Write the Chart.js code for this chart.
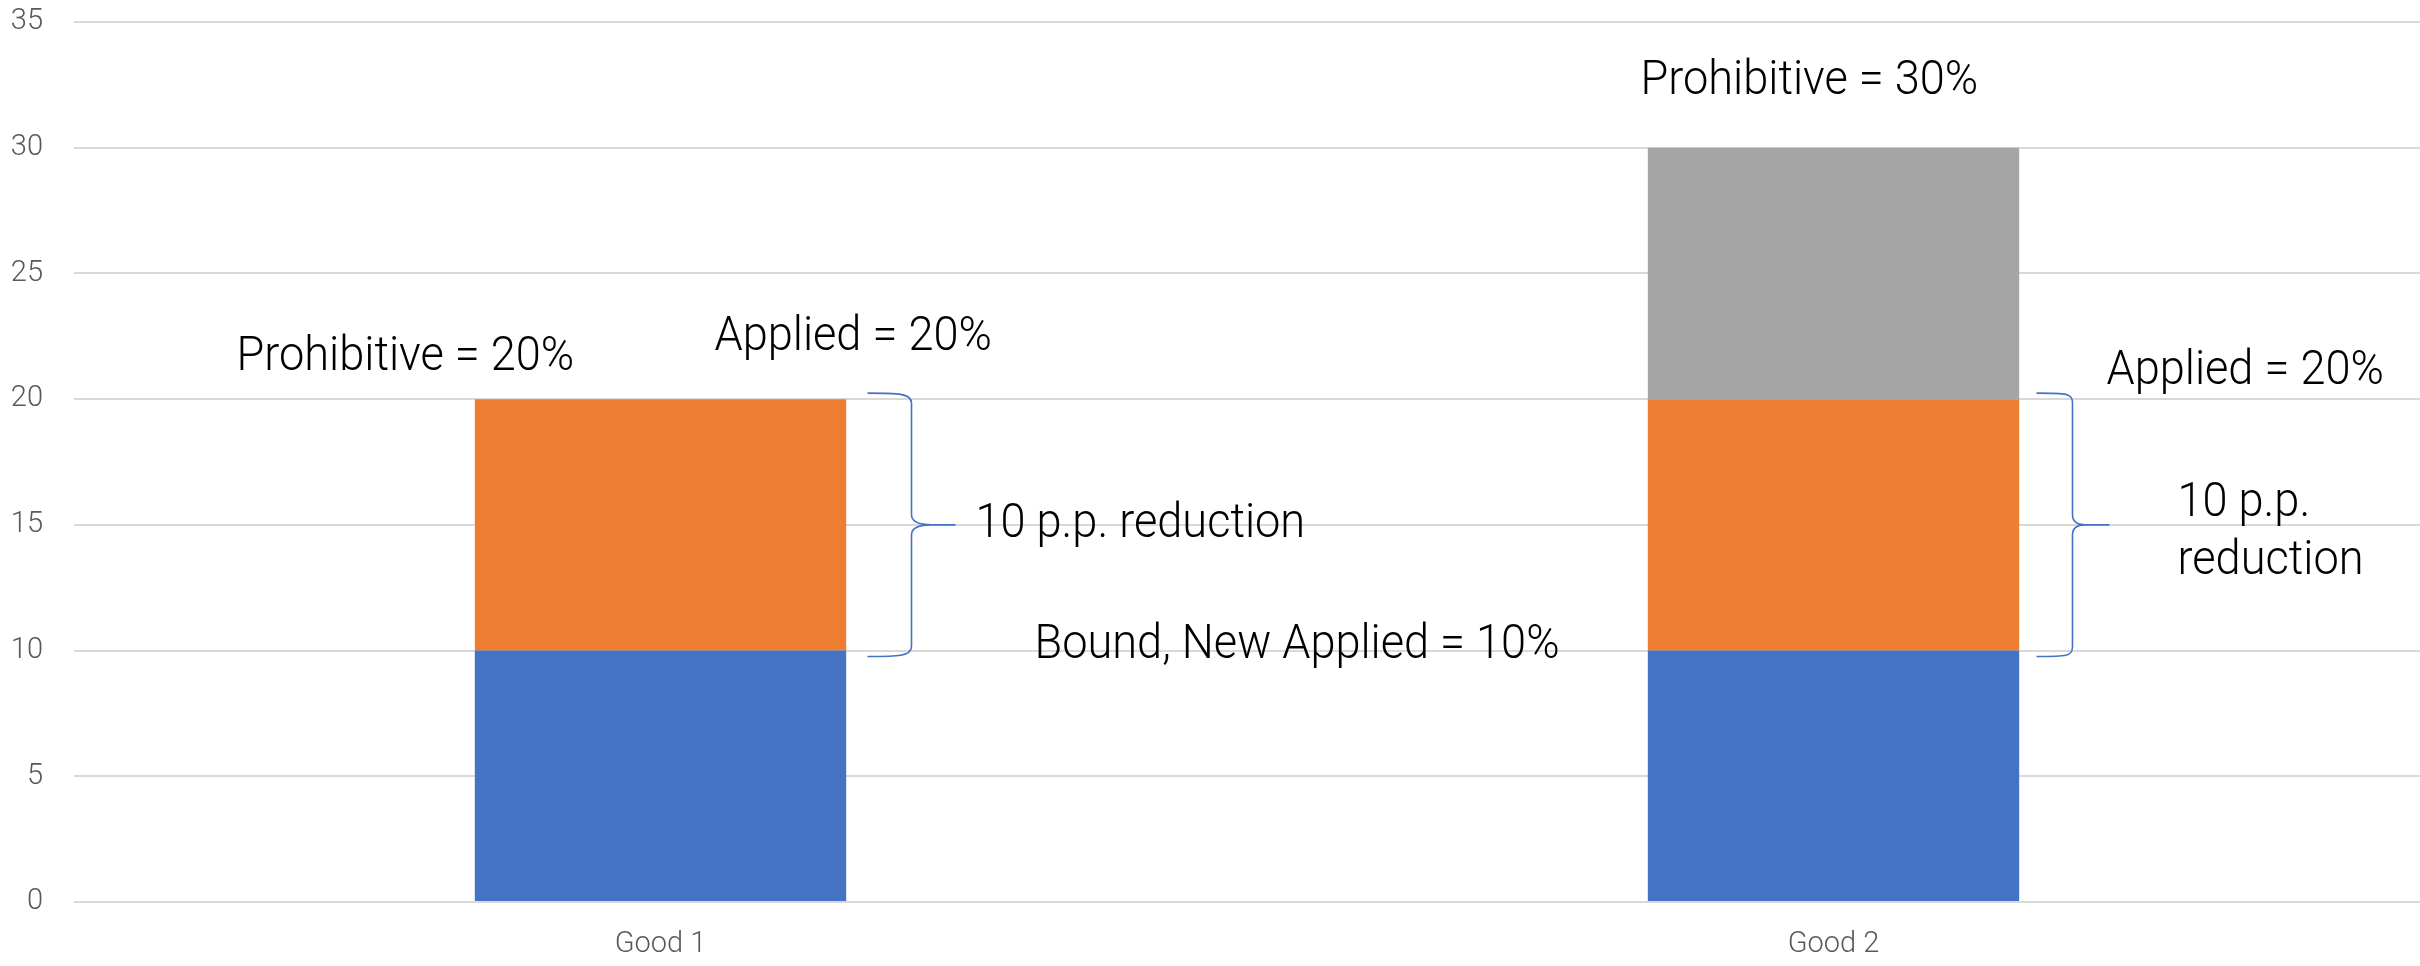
<!DOCTYPE html>
<html>
<head>
<meta charset="utf-8">
<script src="https://cdn.jsdelivr.net/npm/chart.js@4.4.1/dist/chart.umd.min.js"></script>
<style>
  html, body { margin: 0; padding: 0; background: #ffffff; }
  canvas { display: block; }
</style>
</head>
<body>
<canvas id="tariffChart" width="2420" height="966"></canvas>
<script>
// chart data
var goods = ['Good 1', 'Good 2'];
var boundPart = [10, 10];        // blue: bound / new applied rate
var reductionPart = [10, 10];    // orange: applied rate above bound
var prohibitivePart = [0, 10];   // grey: prohibitive rate above applied
var yTicks = [0, 5, 10, 15, 20, 25, 30, 35];

// text notes next to the bars: category index, pixel offset from bar centre, value on y axis
var notes = [
    { cat: 0, dx: -424, y: 21.15, lines: ['Prohibitive = 20%'] },
    { cat: 0, dx: 54, y: 21.95, lines: ['Applied = 20%'] },
    { cat: 0, dx: 315, y: 14.5, lines: ['10 p.p. reduction'] },
    { cat: 0, dx: 374, y: 9.7, lines: ['Bound, New Applied = 10%'] },
    { cat: 1, dx: -193, y: 32.15, lines: ['Prohibitive = 30%'] },
    { cat: 1, dx: 273, y: 20.6, lines: ['Applied = 20%'] },
    { cat: 1, dx: 344, y: 15.35, lines: ['10 p.p.', 'reduction'] }
];

// curly braces: from value to value, pixel offsets of end, spine and tip
var braces = [
    { cat: 0, from: 20, to: 10, xEnd: 207, xSpine: 251, xTip: 295 },
    { cat: 1, from: 20, to: 10, xEnd: 203, xSpine: 239, xTip: 276 }
];

var FONT = 'Roboto, "Open Sans", "DejaVu Sans", sans-serif';

var notesPlugin = {
    id: 'notes',
    afterDatasetsDraw: function (chart) {
        var ctx = chart.ctx;
        var xs = chart.scales.x;
        var ys = chart.scales.y;

        // braces
        ctx.save();
        ctx.strokeStyle = '#4472C4';
        ctx.lineWidth = 1.6;
        braces.forEach(function (b) {
            var cx = xs.getPixelForValue(b.cat);
            var x0 = cx + b.xEnd, xv = cx + b.xSpine, xt = cx + b.xTip;
            var y1 = ys.getPixelForValue(b.from) - 6;
            var y2 = ys.getPixelForValue(b.to) + 6;
            var ym = (y1 + y2) / 2;
            ctx.beginPath();
            ctx.moveTo(x0, y1);
            ctx.bezierCurveTo(x0 + 30, y1, xv, y1, xv, y1 + 10);
            ctx.lineTo(xv, ym - 10);
            ctx.quadraticCurveTo(xv, ym, xt - 24, ym);
            ctx.lineTo(xt, ym);
            ctx.moveTo(xt - 24, ym);
            ctx.quadraticCurveTo(xv, ym, xv, ym + 10);
            ctx.lineTo(xv, y2 - 10);
            ctx.bezierCurveTo(xv, y2, x0 + 30, y2, x0, y2);
            ctx.stroke();
        });
        ctx.restore();

        // text
        ctx.save();
        ctx.fillStyle = '#000000';
        ctx.font = '300 48px ' + FONT;
        ctx.textAlign = 'left';
        ctx.textBaseline = 'alphabetic';
        notes.forEach(function (n) {
            var x = xs.getPixelForValue(n.cat) + n.dx;
            var y = ys.getPixelForValue(n.y);
            n.lines.forEach(function (line, i) {
                ctx.save();
                ctx.translate(x, y + i * 58);
                ctx.scale(0.94, 1);
                ctx.fillText(line, 0, 0);
                ctx.restore();
            });
        });
        ctx.restore();
    }
};

var chart = new Chart(document.getElementById('tariffChart').getContext('2d'), {
    type: 'bar',
    data: {
        labels: goods,
        datasets: [
            { label: 'Bound', data: boundPart, backgroundColor: '#4472C4' },
            { label: 'Reduction', data: reductionPart, backgroundColor: '#ED7D31' },
            { label: 'Prohibitive', data: prohibitivePart, backgroundColor: '#A5A5A5' }
        ]
    },
    options: {
        responsive: false,
        animation: false,
        barPercentage: 0.3166,
        categoryPercentage: 1.0,
        layout: { padding: { top: 22, right: 0, left: 0, bottom: 0 } },
        plugins: {
            legend: { display: false },
            tooltip: { enabled: false }
        },
        scales: {
            x: {
                stacked: true,
                grid: { display: false },
                border: { display: false },
                ticks: {
                    color: '#595959',
                    padding: 17,
                    font: { family: FONT, size: 29, weight: '300' }
                },
                afterFit: function (scale) { scale.height = 64; }
            },
            y: {
                stacked: true,
                min: 0,
                max: 35,
                afterBuildTicks: function (scale) {
                    scale.ticks = yTicks.map(function (v) { return { value: v }; });
                },
                grid: { color: '#D9D9D9', lineWidth: 2, drawTicks: false },
                border: { display: false },
                ticks: {
                    color: '#595959',
                    padding: 31,
                    font: { family: FONT, size: 29, weight: '300' }
                },
                afterFit: function (scale) {
                    scale.width = 74;
                    scale.paddingTop = 0;
                    scale.paddingBottom = 0;
                }
            }
        }
    },
    plugins: [notesPlugin]
});
</script>
</body>
</html>
